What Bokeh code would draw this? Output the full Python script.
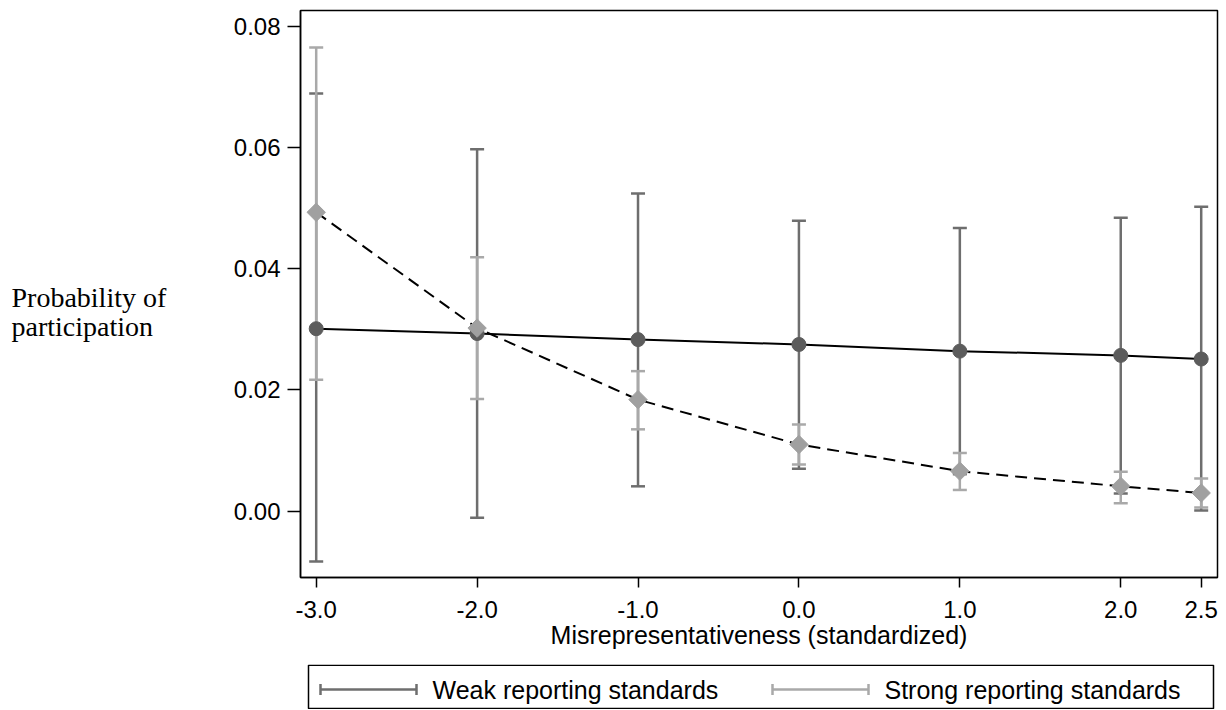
import numpy as np
from bokeh.plotting import figure
from bokeh.models import (ColumnDataSource, Whisker, TeeHead, Range1d, FixedTicker,
                          NumeralTickFormatter, Label)
from bokeh.layouts import column, row
from bokeh.embed import file_html
from bokeh.resources import INLINE

# ---------------- data ----------------
x_vals = [-3.0, -2.0, -1.0, 0.0, 1.0, 2.0, 2.5]
x_tick_labels = ["-3.0", "-2.0", "-1.0", "0.0", "1.0", "2.0", "2.5"]
y_ticks = [0.00, 0.02, 0.04, 0.06, 0.08]

weak_mean = [0.0301, 0.0293, 0.0283, 0.0275, 0.0264, 0.0257, 0.0251]
weak_hi = [0.0689, 0.0597, 0.0524, 0.0479, 0.0467, 0.0484, 0.0502]
weak_lo = [-0.0083, -0.0011, 0.0041, 0.0070, 0.0061, 0.0029, 0.0001]

strong_mean = [0.0493, 0.0302, 0.0184, 0.0110, 0.0066, 0.0041, 0.0030]
strong_hi = [0.0765, 0.0419, 0.0231, 0.0143, 0.0096, 0.0065, 0.0054]
strong_lo = [0.0217, 0.0185, 0.0135, 0.0077, 0.0035, 0.0013, 0.0006]

series_names = ["Weak reporting standards", "Strong reporting standards"]
x_title = "Misrepresentativeness (standardized)"
y_title_lines = ["Probability of", "participation"]

# ---------------- styles ----------------
WEAK_BAR = "#6e6e6e"
WEAK_PT = "#5c5c5c"
STRONG_BAR = "#a9a9a9"
STRONG_PT = "#a0a0a0"
SANS = "Liberation Sans"
SERIF = "Liberation Serif"

weak_src = ColumnDataSource(dict(x=x_vals, m=weak_mean, hi=weak_hi, lo=weak_lo))
strong_src = ColumnDataSource(dict(x=x_vals, m=strong_mean, hi=strong_hi, lo=strong_lo))

MB_L, MB_R = 93, 4
LEFT_W = 207
MAIN_H = 664
LEG_H = 45
TOTAL_H = MAIN_H + LEG_H

p = figure(width=1014, height=MAIN_H, output_backend="svg", toolbar_location=None,
           x_range=Range1d(-3.0976, 2.6013), y_range=Range1d(-0.01094, 0.08259),
           min_border_left=MB_L, min_border_right=MB_R, min_border_top=10, min_border_bottom=87)
p.background_fill_color = "white"
p.border_fill_color = "white"
p.outline_line_color = "black"
p.outline_line_width = 1.5
p.xgrid.visible = False
p.ygrid.visible = False

def whisker(src, color):
    w = Whisker(source=src, base="x", upper="hi", lower="lo",
                line_color=color, line_width=2.5,
                upper_head=TeeHead(size=14, line_color=color, line_width=2.5),
                lower_head=TeeHead(size=14, line_color=color, line_width=2.5))
    p.add_layout(w)

whisker(weak_src, WEAK_BAR)
whisker(strong_src, STRONG_BAR)

p.line("x", "m", source=weak_src, line_color="black", line_width=2)
p.line("x", "m", source=strong_src, line_color="black", line_width=2, line_dash="12 7")
p.scatter("x", "m", source=weak_src, marker="circle", size=14,
          fill_color=WEAK_PT, line_color=WEAK_PT)
p.scatter("x", "m", source=strong_src, marker="square", angle=np.pi / 4, size=13,
          fill_color=STRONG_PT, line_color=STRONG_PT)

# axes
p.xaxis.ticker = FixedTicker(ticks=x_vals)
p.xaxis.major_label_overrides = {v: s for v, s in zip(x_vals, x_tick_labels)}
p.yaxis.ticker = FixedTicker(ticks=y_ticks)
p.yaxis.formatter = NumeralTickFormatter(format="0.00")
for ax in (p.xaxis, p.yaxis):
    ax.axis_line_color = "black"
    ax.axis_line_width = 1.5
    ax.major_tick_line_color = "black"
    ax.major_tick_line_width = 1.5
    ax.major_tick_in = 0
    ax.minor_tick_line_color = None
    ax.major_label_text_font = SANS
    ax.major_label_text_font_size = "24px"
    ax.major_label_text_color = "black"
p.xaxis.major_tick_out = 10
p.xaxis.major_label_standoff = 13
p.yaxis.major_tick_out = 13
p.yaxis.major_label_standoff = 7
p.xaxis.axis_label = x_title
p.xaxis.axis_label_text_font = SANS
p.xaxis.axis_label_text_font_size = "25px"
p.xaxis.axis_label_text_font_style = "normal"
p.xaxis.axis_label_text_color = "black"
p.xaxis.axis_label_standoff = 0

# ---------------- legend box (same frame borders as main plot) ----------------
lg = figure(width=1014, height=LEG_H, output_backend="svg", toolbar_location=None,
            x_range=Range1d(0, 917), y_range=Range1d(0, LEG_H),
            min_border_left=MB_L, min_border_right=MB_R, min_border_top=0, min_border_bottom=0)
lg.xaxis.visible = False
lg.yaxis.visible = False
lg.xgrid.visible = False
lg.ygrid.visible = False
lg.outline_line_color = None
lg.border_fill_color = "white"
lg.quad(left=[8], right=[913], bottom=[1], top=[LEG_H - 0.75], fill_color=None,
        line_color="black", line_width=1.5)

legend_items = [(series_names[0], WEAK_BAR, 20, 132), (series_names[1], STRONG_BAR, 472, 584)]
sym_len, sym_y, tick_h = 96, 20, 11
for name, color, x0, tx in legend_items:
    lg.segment(x0=[x0], y0=[sym_y], x1=[x0 + sym_len], y1=[sym_y], line_color=color, line_width=2.5)
    lg.segment(x0=[x0, x0 + sym_len], y0=[sym_y - tick_h / 2] * 2,
               x1=[x0, x0 + sym_len], y1=[sym_y + tick_h / 2] * 2,
               line_color=color, line_width=2.5)
    lg.add_layout(Label(x=tx, y=sym_y, text=name, text_font=SANS, text_font_size="25px",
                        text_color="black", text_baseline="middle"))

# ---------------- left strip with the horizontal y title ----------------
yl = figure(width=LEFT_W, height=TOTAL_H, output_backend="svg", toolbar_location=None,
            x_range=Range1d(0, LEFT_W), y_range=Range1d(0, TOTAL_H),
            min_border_left=0, min_border_right=0, min_border_top=0, min_border_bottom=0)
yl.xaxis.visible = False
yl.yaxis.visible = False
yl.xgrid.visible = False
yl.ygrid.visible = False
yl.outline_line_color = None
yl.border_fill_color = "white"
yl.add_layout(Label(x=11, y=TOTAL_H - 297, text=y_title_lines[0], text_font=SERIF,
                    text_font_size="28px", text_color="black", text_baseline="alphabetic"))
yl.add_layout(Label(x=11, y=TOTAL_H - 326, text=y_title_lines[1], text_font=SERIF,
                    text_font_size="28px", text_color="black", text_baseline="alphabetic"))

layout = row(yl, column(p, lg, spacing=0), spacing=0)
open("out.html", "w").write(file_html(layout, INLINE))
